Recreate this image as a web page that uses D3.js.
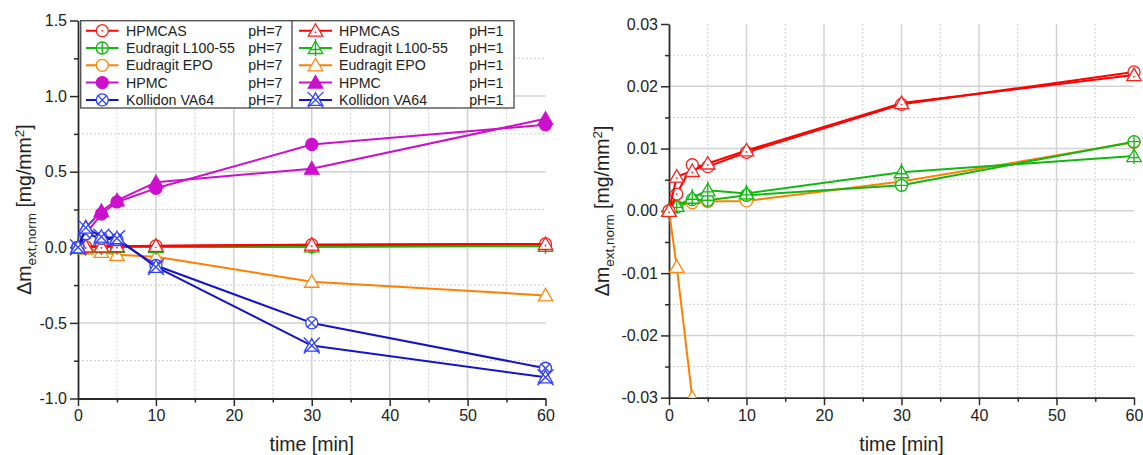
<!DOCTYPE html>
<html>
<head>
<meta charset="utf-8">
<script src="https://cdn.jsdelivr.net/npm/d3@7"></script>
<style>
  html, body { margin: 0; padding: 0; background: #fff; }
  svg { display: block; font-family: "Liberation Sans", Arial, sans-serif; }
</style>
</head>
<body>
<svg id="chart" width="1143" height="455"></svg>
<script>
// Sampling times [min]
const times = [0, 1, 3, 5, 10, 30, 60];

// Normalised extracted mass change [mg/mm^2] per polymer and medium
const hpmcasPH7   = [0, 0.0027, 0.0074, 0.0071, 0.0094, 0.0171, 0.0223];
const l10055PH7   = [0, 0.0006, 0.0018, 0.0017, 0.0025, 0.0041, 0.0111];
const epoPH7      = [0, 0.0008, 0.0013, 0.0015, 0.0016, 0.0047, 0.0110];
const hpmcPH7     = [0, 0.09, 0.22, 0.30, 0.39, 0.68, 0.81];
const kollidonPH7 = [0, 0.09, 0.06, 0.05, -0.12, -0.50, -0.80];

const hpmcasPH1   = [0, 0.0055, 0.0064, 0.0076, 0.0097, 0.0173, 0.0218];
const l10055PH1   = [0, 0.0008, 0.0021, 0.0033, 0.0028, 0.0062, 0.0088];
const epoPH1      = [0, -0.0090, -0.030, -0.050, -0.063, -0.228, -0.318];
const hpmcPH1     = [0, 0.13, 0.24, 0.31, 0.43, 0.52, 0.85];
const kollidonPH1 = [0, 0.13, 0.07, 0.06, -0.13, -0.65, -0.86];

// Legend / series labels
const polymerNames = ["HPMCAS", "Eudragit L100-55", "Eudragit EPO", "HPMC", "Kollidon VA64"];
const phLabels = ["pH=7", "pH=1"];

// Axis ticks
const xMajorTicks = [0, 10, 20, 30, 40, 50, 60];
const xMinorTicks = [5, 15, 25, 35, 45, 55];
const leftYMajor = [-1.0, -0.5, 0.0, 0.5, 1.0, 1.5];
const leftYMinor = [-0.75, -0.25, 0.25, 0.75, 1.25];
const rightYMajor = [-0.03, -0.02, -0.01, 0.00, 0.01, 0.02, 0.03];
const rightYMinor = [-0.025, -0.015, -0.005, 0.005, 0.015, 0.025];

// Series table built from the arrays above
const seriesPH7 = [hpmcasPH7, l10055PH7, epoPH7, hpmcPH7, kollidonPH7];
const seriesPH1 = [hpmcasPH1, l10055PH1, epoPH1, hpmcPH1, kollidonPH1];

// Styling per polymer
const lineColors   = ["#ff0000", "#10b810", "#ff8000", "#cc10cc", "#1414c8"];
const markerColors = ["#ff2020", "#10b810", "#ff8a10", "#cc10cc", "#3040ff"];
const markersPH7 = ["circleDot", "circlePlus", "circle", "circleFill", "circleX"];
const markersPH1 = ["triDot", "triPlus", "tri", "triFill", "triX"];
// stacking order of polymers (first drawn is lowest)
const drawOrder = [2, 1, 0, 3, 4];

const series = [];
polymerNames.forEach((name, i) => {
  series.push({ name, ph: phLabels[0], values: seriesPH7[i], idx: i, marker: markersPH7[i] });
});
polymerNames.forEach((name, i) => {
  series.push({ name, ph: phLabels[1], values: seriesPH1[i], idx: i, marker: markersPH1[i] });
});

const svg = d3.select("#chart");
const FONT = '"Liberation Sans", Arial, sans-serif';

function drawMarker(g, type, color) {
  const r = 6;
  const sw = 1.3;
  const tri = "M0,-7L7.2,5.5L-7.2,5.5Z";
  const isTri = type.startsWith("tri");
  if (isTri) {
    g.append("path").attr("d", tri)
      .attr("fill", type === "triFill" ? color : "#fff")
      .attr("stroke", color).attr("stroke-width", sw).attr("stroke-linejoin", "miter");
  } else {
    g.append("circle").attr("r", r)
      .attr("fill", type === "circleFill" ? color : "#fff")
      .attr("stroke", color).attr("stroke-width", sw);
  }
  if (type === "circleDot") {
    g.append("circle").attr("r", 0.9).attr("fill", color);
  } else if (type === "triDot") {
    g.append("circle").attr("cy", 1.5).attr("r", 0.9).attr("fill", color);
  } else if (type === "circlePlus") {
    g.append("path").attr("d", `M${-r},0H${r}M0,${-r}V${r}`)
      .attr("stroke", color).attr("stroke-width", sw);
  } else if (type === "triPlus") {
    g.append("path").attr("d", "M-5,1.5H5M0,-9V8")
      .attr("stroke", color).attr("stroke-width", sw);
  } else if (type === "circleX") {
    const d = r * 0.8;
    g.append("path").attr("d", `M${-d},${-d}L${d},${d}M${-d},${d}L${d},${-d}`)
      .attr("stroke", color).attr("stroke-width", sw);
  } else if (type === "triX") {
    g.append("path").attr("d", "M-8,-8L8,8M-8,8L8,-8")
      .attr("stroke", color).attr("stroke-width", sw);
  }
}

function yTitle(x, yMid) {
  const t = svg.append("text")
    .attr("transform", `translate(${x},${yMid}) rotate(-90)`)
    .attr("text-anchor", "middle")
    .attr("font-size", 19.5).attr("fill", "#222");
  t.append("tspan").text("Δm");
  t.append("tspan").attr("font-size", 13.5).attr("dy", 5).text("ext,norm");
  t.append("tspan").attr("dy", -5).text(" [mg/mm");
  t.append("tspan").attr("font-size", 13.5).attr("dy", -7.5).text("2");
  t.append("tspan").attr("dy", 7.5).text("]");
}

function drawPanel(cfg) {
  const x = d3.scaleLinear().domain([0, 60]).range([cfg.x0, cfg.x1]);
  const y = d3.scaleLinear().domain(cfg.yDomain).range([cfg.yBottom, cfg.yTop]);
  const g = svg.append("g");

  // minor dotted grid
  g.selectAll(".mgx").data(xMinorTicks).join("line")
    .attr("x1", d => x(d)).attr("x2", d => x(d))
    .attr("y1", cfg.yTop).attr("y2", cfg.yBottom)
    .attr("stroke", "#cfcfcf").attr("stroke-width", 1).attr("stroke-dasharray", "2,2");
  g.selectAll(".mgy").data(cfg.yMinor).join("line")
    .attr("x1", cfg.x0).attr("x2", cfg.x1)
    .attr("y1", d => y(d)).attr("y2", d => y(d))
    .attr("stroke", "#cfcfcf").attr("stroke-width", 1).attr("stroke-dasharray", "2,2");

  // major solid grid
  g.selectAll(".gx").data(xMajorTicks.filter(d => d > 0 && d < 60)).join("line")
    .attr("x1", d => x(d)).attr("x2", d => x(d))
    .attr("y1", cfg.yTop).attr("y2", cfg.yBottom)
    .attr("stroke", "#d2d2d2").attr("stroke-width", 1.5);
  const yd = cfg.yDomain;
  g.selectAll(".gy").data(cfg.yMajor.filter(d => d > yd[0] + 1e-9 && d < yd[1] - 1e-9)).join("line")
    .attr("x1", cfg.x0).attr("x2", cfg.x1)
    .attr("y1", d => y(d)).attr("y2", d => y(d))
    .attr("stroke", "#d2d2d2").attr("stroke-width", 1.5);

  // axes
  const styleAxis = (sel) => {
    sel.selectAll("path.domain").attr("stroke", "#2a2a2a").attr("stroke-width", 1.8);
    sel.selectAll(".tick line").attr("stroke", "#2a2a2a").attr("stroke-width", 1.5);
    sel.selectAll(".tick text").attr("font-size", 16).attr("font-family", FONT).attr("fill", "#222");
  };
  const xAxisMinor = g.append("g").attr("transform", `translate(0,${cfg.yBottom})`)
    .call(d3.axisBottom(x).tickValues(xMinorTicks).tickSize(4).tickSizeOuter(0).tickFormat(""));
  xAxisMinor.select("path.domain").remove();
  styleAxis(xAxisMinor);
  const yAxisMinor = g.append("g").attr("transform", `translate(${cfg.x0},0)`)
    .call(d3.axisLeft(y).tickValues(cfg.yMinor).tickSize(4).tickSizeOuter(0).tickFormat(""));
  yAxisMinor.select("path.domain").remove();
  styleAxis(yAxisMinor);

  const xAxis = g.append("g").attr("transform", `translate(0,${cfg.yBottom})`)
    .call(d3.axisBottom(x).tickValues(xMajorTicks).tickSize(7.5).tickPadding(4).tickSizeOuter(0)
      .tickFormat(d3.format("d")));
  styleAxis(xAxis);
  const yAxis = g.append("g").attr("transform", `translate(${cfg.x0},0)`)
    .call(d3.axisLeft(y).tickValues(cfg.yMajor).tickSize(8).tickPadding(3).tickSizeOuter(0)
      .tickFormat(d => d3.format(cfg.fmt)(d).replace("−", "-")));
  styleAxis(yAxis);

  // axis titles
  svg.append("text").attr("x", (cfg.x0 + cfg.x1) / 2).attr("y", 451)
    .attr("text-anchor", "middle").attr("font-size", 19.5).attr("fill", "#222")
    .text("time [min]");
  yTitle(cfg.titleX, (cfg.yTop + cfg.yBottom) / 2);

  // data
  const plot = svg.append("g");
  if (cfg.clipId) {
    svg.append("clipPath").attr("id", cfg.clipId).append("rect")
      .attr("x", cfg.x0 - 15).attr("y", cfg.yTop - 15)
      .attr("width", cfg.x1 - cfg.x0 + 30).attr("height", cfg.yBottom - cfg.yTop + 15);
    plot.attr("clip-path", `url(#${cfg.clipId})`);
  }
  const ordered = [];
  drawOrder.forEach(p => cfg.series.filter(s => s.idx === p).forEach(s => ordered.push(s)));
  const line = d3.line().x((d, i) => x(times[i])).y(d => y(d));
  ordered.forEach(s => {
    const sg = plot.append("g");
    sg.append("path").datum(s.values)
      .attr("d", line).attr("fill", "none")
      .attr("stroke", lineColors[s.idx]).attr("stroke-width", 2)
      .attr("stroke-linejoin", "round");
    s.values.forEach((v, i) => {
      const mg = sg.append("g").attr("transform", `translate(${x(times[i])},${y(v)})`);
      drawMarker(mg, s.marker, markerColors[s.idx]);
    });
  });
}

// Left panel: all polymers
drawPanel({
  x0: 78, x1: 545.5, yTop: 20.5, yBottom: 398.5,
  yDomain: [-1.0, 1.5], yMajor: leftYMajor, yMinor: leftYMinor, fmt: ".1f",
  titleX: 31, series: series, clipId: null
});

// Right panel: enlarged view of the enteric / cationic polymers
const zoomSeries = series.filter(s => s.idx <= 2);
drawPanel({
  x0: 669, x1: 1134, yTop: 24, yBottom: 397.7,
  yDomain: [-0.03, 0.03], yMajor: rightYMajor, yMinor: rightYMinor, fmt: ".2f",
  titleX: 609, series: zoomSeries, clipId: "clipRight"
});

// Legend (left panel)
const legend = svg.append("g");
const lx = 80.7, ly = 20.7, lw = 433.3, lh = 87.3;
legend.append("rect").attr("x", lx).attr("y", ly).attr("width", lw).attr("height", lh)
  .attr("fill", "#fff").attr("stroke", "#555").attr("stroke-width", 1.4);
legend.append("line").attr("x1", 292).attr("x2", 292).attr("y1", ly).attr("y2", ly + lh)
  .attr("stroke", "#555").attr("stroke-width", 1.4);
const rowY = i => 30.7 + i * 17.3;
const cols = [
  { lineX0: 86, lineX1: 118.5, text: 126, phEnd: 282.5 },
  { lineX0: 299, lineX1: 332, text: 339, phEnd: 503.5 }
];
series.forEach((s, k) => {
  const c = cols[k < 5 ? 0 : 1];
  const yy = rowY(s.idx);
  legend.append("line").attr("x1", c.lineX0).attr("x2", c.lineX1).attr("y1", yy).attr("y2", yy)
    .attr("stroke", lineColors[s.idx]).attr("stroke-width", 2);
  const mg = legend.append("g").attr("transform", `translate(${(c.lineX0 + c.lineX1) / 2},${yy})`);
  drawMarker(mg, s.marker, markerColors[s.idx]);
  legend.append("text").attr("x", c.text).attr("y", yy + 5)
    .attr("font-size", 14.2).attr("fill", "#222").text(s.name);
  legend.append("text").attr("x", c.phEnd).attr("y", yy + 5).attr("text-anchor", "end")
    .attr("font-size", 14.2).attr("fill", "#222").text(s.ph);
});
</script>
</body>
</html>
